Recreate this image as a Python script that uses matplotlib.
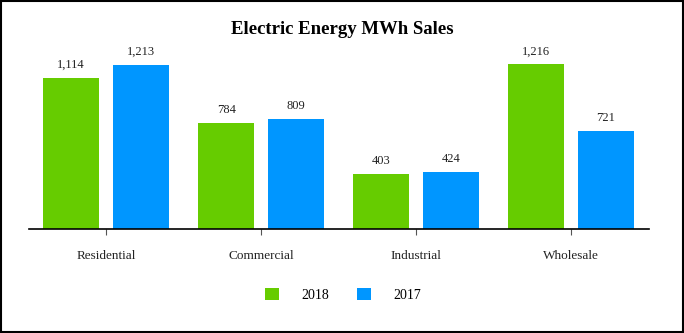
import matplotlib.pyplot as plt
import numpy as np
from matplotlib.patches import Rectangle

categories = ['Residential', 'Commercial', 'Industrial', 'Wholesale']
sales_2018 = [1114, 784, 403, 1216]
sales_2017 = [1213, 809, 424, 721]

GREEN = '#66CC00'
BLUE = '#0096FF'

plt.rcParams['font.family'] = 'Liberation Serif'

fig = plt.figure(figsize=(6.84, 3.33), dpi=100)
ax = fig.add_axes([28.5 / 684, 104 / 333, 620 / 684, 189.7 / 333])

x = np.arange(len(categories))
w = 0.36
off = 0.225
b1 = ax.bar(x - off, sales_2018, w, color=GREEN, label='2018')
b2 = ax.bar(x + off, sales_2017, w, color=BLUE, label='2017')

for bars, vals in [(b1, sales_2018), (b2, sales_2017)]:
    for bar, v in zip(bars, vals):
        ax.annotate(f'{v:,}', (bar.get_x() + bar.get_width() / 2, bar.get_height()),
                    xytext=(0, 5), textcoords='offset points',
                    ha='center', va='bottom', fontsize=9, color='#222222')

ax.set_xlim(-0.5, 3.5)
ax.set_ylim(0, 1400)
ax.set_xticks(x)
ax.set_xticklabels(categories, fontsize=9.5, color='#222222')
ax.tick_params(axis='x', length=4, width=0.8, pad=11, color='#555555')
ax.set_yticks([])
for s in ['top', 'right', 'left']:
    ax.spines[s].set_visible(False)
ax.spines['bottom'].set_linewidth(1.2)

fig.text(0.5, 1 - 30 / 333, 'Electric Energy MWh Sales', ha='center', va='center',
         fontsize=13.5, fontweight='bold')

fig.legend(handles=[b1, b2], loc='center', bbox_to_anchor=(343 / 684, 1 - 295 / 333),
           ncol=2, frameon=False, fontsize=10, handlelength=1.0, handleheight=1.0,
           handletextpad=1.6, columnspacing=2.0)

fig.patches.append(Rectangle((0.002, 0.003), 0.996, 0.994, transform=fig.transFigure,
                             fill=False, edgecolor='black', linewidth=1.5))

fig.savefig('out.png', dpi=100)
